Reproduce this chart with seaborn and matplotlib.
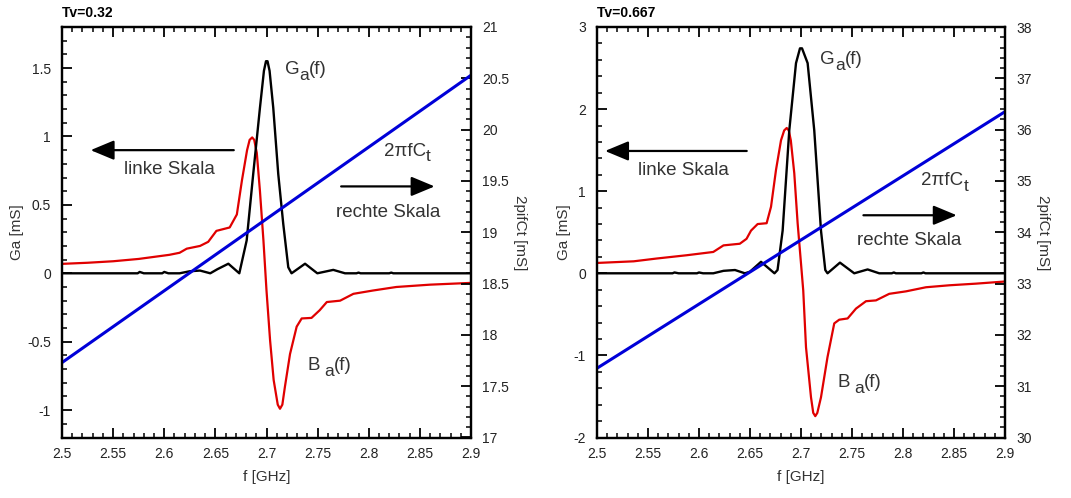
import matplotlib
matplotlib.use("Agg")
import matplotlib.pyplot as plt
import seaborn as sns
from matplotlib.ticker import MultipleLocator, FuncFormatter

# ---------------- data ----------------
# left panel, Tv=0.32
f_ga_l = [2.5, 2.574, 2.576, 2.58, 2.598, 2.600, 2.604, 2.615, 2.625, 2.635, 2.645, 2.652,
          2.6627, 2.6734, 2.6806, 2.687, 2.6936, 2.6975, 2.6995, 2.7010, 2.7030, 2.7066,
          2.7115, 2.7164, 2.7213, 2.7245, 2.7377, 2.7497, 2.7653, 2.7768, 2.788, 2.790,
          2.792, 2.820, 2.822, 2.824, 2.9]
ga_l = [0, 0, 0.01, 0, 0, 0.01, 0, 0, 0.015, 0.02, 0.0, 0.03,
        0.07, 0.0, 0.24, 0.725, 1.21, 1.48, 1.55, 1.55, 1.48, 1.21,
        0.725, 0.36, 0.044, 0.0, 0.07, 0.0, 0.025, 0.0, 0.0, 0.005,
        0, 0, 0.005, 0, 0]

f_ba_l = [2.5, 2.525, 2.55, 2.575, 2.59, 2.605, 2.615, 2.622, 2.635, 2.643, 2.651, 2.664,
          2.671, 2.676, 2.681, 2.6835, 2.6860, 2.6880, 2.6905, 2.6936, 2.697, 2.700, 2.7035,
          2.707, 2.7110, 2.7132, 2.7155, 2.718, 2.723, 2.7295, 2.7344, 2.744, 2.752, 2.759,
          2.772, 2.785, 2.804, 2.827, 2.86, 2.9]
ba_l = [0.069, 0.077, 0.088, 0.105, 0.12, 0.135, 0.15, 0.18, 0.20, 0.23, 0.31, 0.335,
        0.43, 0.68, 0.90, 0.975, 0.993, 0.975, 0.88, 0.60, 0.24, -0.126, -0.49,
        -0.78, -0.96, -0.99, -0.96, -0.83, -0.59, -0.39, -0.33, -0.326, -0.27, -0.21,
        -0.20, -0.15, -0.126, -0.10, -0.083, -0.07]

# right panel, Tv=0.667
f_ga_r = [2.5, 2.574, 2.576, 2.58, 2.598, 2.600, 2.604, 2.614, 2.624, 2.6353, 2.645, 2.65,
          2.6608, 2.674, 2.677, 2.682, 2.6885, 2.6951, 2.6990, 2.7010, 2.7065, 2.713,
          2.7196, 2.7238, 2.726, 2.7382, 2.7522, 2.7653, 2.7767, 2.789, 2.791, 2.793,
          2.818, 2.82, 2.822, 2.9]
ga_r = [0, 0, 0.01, 0, 0, 0.01, 0, 0, 0.03, 0.04, 0.0, 0.02,
        0.14, 0.0, 0.04, 0.52, 1.74, 2.56, 2.74, 2.74, 2.56, 1.74,
        0.52, 0.04, 0.0, 0.13, 0.0, 0.047, 0.0, 0, 0.01, 0,
        0, 0.01, 0, 0]

f_ba_r = [2.5, 2.536, 2.5585, 2.588, 2.614, 2.624, 2.64, 2.6466, 2.651, 2.6575, 2.6663,
          2.6706, 2.6755, 2.6804, 2.6835, 2.6860, 2.6880, 2.690, 2.6934, 2.6967, 2.70,
          2.7022, 2.7049, 2.7098, 2.7120, 2.714, 2.7160, 2.7196, 2.726, 2.7326, 2.7375,
          2.7457, 2.7539, 2.7637, 2.7735, 2.7865, 2.8029, 2.8225, 2.8454, 2.8715, 2.9]
ba_r = [0.126, 0.146, 0.18, 0.22, 0.26, 0.34, 0.36, 0.42, 0.52, 0.60, 0.61,
        0.81, 1.26, 1.62, 1.74, 1.77, 1.74, 1.62, 1.22, 0.61, 0.12,
        -0.21, -0.90, -1.51, -1.70, -1.74, -1.70, -1.51, -1.02, -0.61, -0.565,
        -0.55, -0.43, -0.34, -0.33, -0.25, -0.22, -0.17, -0.146, -0.126, -0.10]

# 2*pi*f*Ct (right scale)
f_ct = [2.5, 2.9]
ct_l = [17.73, 20.53]
ct_r = [31.35, 36.35]

titles = ["Tv=0.32", "Tv=0.667"]
xlabel = "f [GHz]"
ylabel_left = "Ga [mS]"
ylabel_right = "2pifCt [mS]"

# ---------------- style ----------------
sns.set_theme(style="ticks")
plt.rcParams["font.family"] = ["Liberation Sans", "DejaVu Sans"]
plt.rcParams["axes.linewidth"] = 1.6
plt.rcParams["axes.edgecolor"] = "black"

RED = "#e00000"
BLUE = "#0000d8"
TXT = "#333333"
TICKC = "#222222"


def fmt(v, p):
    v = round(v, 6)
    if v == 0:
        v = 0.0
    return f"{v:g}"


def sub_text(ax, x, y, base, sub, rest, size=13.5, subsize=12.5, drop=3.5, gap=0.0):
    t1 = ax.text(x, y, base, fontsize=size, color=TXT, ha="left", va="baseline")
    t2 = ax.annotate(sub, xy=(1, 0), xycoords=t1, xytext=(gap, -drop),
                     textcoords="offset points", fontsize=subsize, color=TXT,
                     ha="left", va="bottom")
    if rest:
        ax.annotate(rest, xy=(1, 0), xycoords=(t2, t1), xytext=(0, 0),
                    textcoords="offset points", fontsize=size, color=TXT,
                    ha="left", va="bottom")


def arrow(ax, x0, x1, y):
    ax.annotate("", xy=(x1, y), xytext=(x0, y),
                arrowprops=dict(arrowstyle="-|>,head_length=0.6,head_width=0.25",
                                mutation_scale=24, lw=1.6, color="black",
                                shrinkA=0, shrinkB=0))


fig = plt.figure(figsize=(10.71, 4.98), dpi=100)
bottom = 1 - 437.5 / 498
height = 410.5 / 498
axL = fig.add_axes([62 / 1071, bottom, 409 / 1071, height])
axR = fig.add_axes([597 / 1071, bottom, 408 / 1071, height])

panels = [
    dict(ax=axL, fga=f_ga_l, ga=ga_l, fba=f_ba_l, ba=ba_l, ct=ct_l,
         ylim=(-1.2, 1.8), ymaj=0.5, ymin=0.1, y2lim=(17, 21), y2maj=0.5, y2min=0.1,
         title=titles[0],
         G=(2.718, 1.455), linke=(2.561, 0.726), larr=(2.668, 2.528, 0.90),
         pifc=(2.815, 0.86), rarr=(2.773, 2.8644, 0.635), rechte=(2.768, 0.414),
         B=(2.74, -0.71)),
    dict(ax=axR, fga=f_ga_r, ga=ga_r, fba=f_ba_r, ba=ba_r, ct=ct_r,
         ylim=(-2, 3), ymaj=1, ymin=0.2, y2lim=(30, 38), y2maj=1, y2min=0.2,
         title=titles[1],
         G=(2.719, 2.545), linke=(2.540, 1.195), larr=(2.6468, 2.5079, 1.49),
         pifc=(2.818, 1.073), rarr=(2.7612, 2.8527, 0.707), rechte=(2.7552, 0.341),
         B=(2.7359, -1.387)),
]

for P in panels:
    ax = P["ax"]
    sns.lineplot(x=P["fba"], y=P["ba"], ax=ax, color=RED, linewidth=1.6)
    sns.lineplot(x=P["fga"], y=P["ga"], ax=ax, color="black", linewidth=1.7)
    ax.set_xlim(2.5, 2.9)
    ax.set_ylim(*P["ylim"])

    ax2 = ax.twinx()
    sns.lineplot(x=f_ct, y=P["ct"], ax=ax2, color=BLUE, linewidth=2.2)
    ax2.set_ylim(*P["y2lim"])

    for s in list(ax.spines.values()) + list(ax2.spines.values()):
        s.set_linewidth(1.6)
        s.set_color("black")

    ax.xaxis.set_major_locator(MultipleLocator(0.05))
    ax.xaxis.set_minor_locator(MultipleLocator(0.01))
    ax.yaxis.set_major_locator(MultipleLocator(P["ymaj"]))
    ax.yaxis.set_minor_locator(MultipleLocator(P["ymin"]))
    ax2.yaxis.set_major_locator(MultipleLocator(P["y2maj"]))
    ax2.yaxis.set_minor_locator(MultipleLocator(P["y2min"]))
    ax.xaxis.set_major_formatter(FuncFormatter(fmt))
    ax.yaxis.set_major_formatter(FuncFormatter(fmt))
    ax2.yaxis.set_major_formatter(FuncFormatter(fmt))

    ax.tick_params(axis="x", which="both", direction="in", top=True, bottom=True,
                   labelsize=10, labelcolor=TICKC, pad=7)
    ax.tick_params(axis="y", which="both", direction="in", left=True, right=False,
                   labelsize=10, labelcolor=TICKC, pad=8)
    ax2.tick_params(axis="y", which="both", direction="in", right=True, left=False,
                    labelsize=10, labelcolor=TICKC, pad=8)
    for a in (ax, ax2):
        a.tick_params(which="major", length=7, width=1.3, color="black")
        a.tick_params(which="minor", length=3.5, width=1.1, color="black")

    ax.set_xlabel(xlabel, fontsize=11, color=TXT, labelpad=6)
    ax.set_ylabel(ylabel_left, fontsize=11, color=TXT, labelpad=2)
    ax2.set_ylabel(ylabel_right, fontsize=11, color=TXT, rotation=270,
                   va="bottom", labelpad=3)
    ax.set_title(P["title"], loc="left", fontsize=10, fontweight="bold",
                 color="black", pad=7)
    ax.grid(False)
    ax2.grid(False)

    # annotations
    sub_text(ax, P["G"][0], P["G"][1], "G", "a", "(f)")
    ax.text(P["linke"][0], P["linke"][1], "linke Skala", fontsize=13.5, color=TXT,
            ha="left", va="baseline")
    arrow(ax, *P["larr"])
    sub_text(ax, P["pifc"][0], P["pifc"][1], "2\u03c0fC", "t", "")
    arrow(ax, *P["rarr"])
    ax.text(P["rechte"][0], P["rechte"][1], "rechte Skala", fontsize=13.5, color=TXT,
            ha="left", va="baseline")
    sub_text(ax, P["B"][0], P["B"][1], "B", "a", "(f)", gap=3)

fig.savefig("out.png", dpi=100)
